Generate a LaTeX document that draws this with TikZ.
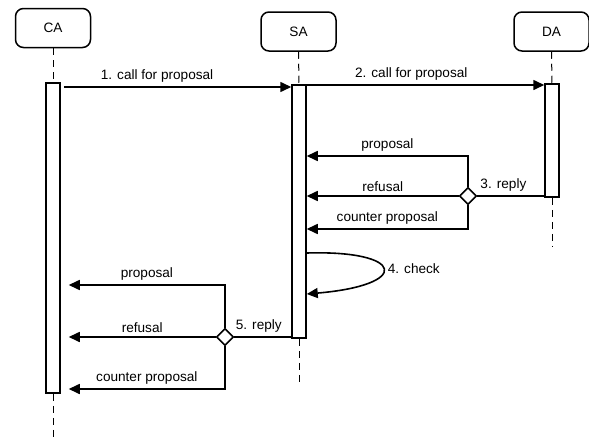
\documentclass[tikz,border=0pt]{standalone}
\usepackage{fontspec}
\setmainfont{Liberation Sans}
\usetikzlibrary{arrows.meta,positioning,calc,shapes.geometric}

\begin{document}
\begin{tikzpicture}[x=1pt,y=-1pt,
  agent/.style={draw,line width=1.5pt,rounded corners=8pt,minimum width=75pt,minimum height=39pt,font=\fontsize{13.6}{16}\selectfont},
  actbar/.style={draw,line width=1.5pt,fill=white,minimum width=14pt,inner sep=0pt},
  lifeline/.style={line width=1pt,dash pattern=on 7pt off 5pt},
  msg/.style={line width=1.6pt,-{Triangle[length=11pt,width=10pt]}},
  link/.style={line width=1.6pt},
  choice/.style={diamond,draw,line width=1.6pt,fill=white,minimum width=17pt,minimum height=17pt,inner sep=0pt},
  lbl/.style={above,inner sep=3.5pt,font=\fontsize{13.6}{16}\selectfont}]
  \useasboundingbox (0,0) rectangle (589,439); % 画像全体の大きさ
  \node[agent] (ca) at (53,28) {CA}; % エージェントの箱
  \node[agent] (sa) at (298.5,31.5) {SA};
  \node[agent] (da) at (551.5,31.5) {DA};
  \node[actbar,minimum height=310pt] (caact) at (53,238) {}; % 活性区間の細長い長方形
  \node[actbar,minimum height=253pt] (saact) at (299,211.5) {};
  \node[actbar,minimum height=113pt] (daact) at (552,140.5) {};
  \coordinate (caend) at (53,438); % ライフラインの下端
  \coordinate (saend) at (299,385);
  \coordinate (daend) at (552,247);
  \coordinate (catip) at ($(caact.east)+(8,0)$); % CA側の矢印の先端の位置
  \draw[lifeline] (ca.south) -- (caact.north); % 点線のライフライン
  \draw[lifeline] (caact.south) -- (caend);
  \draw[lifeline] (sa.south) -- (saact.north);
  \draw[lifeline] (saact.south) -- (saend);
  \draw[lifeline] (da.south) -- (daact.north);
  \draw[lifeline] (daact.south) -- (daend);
  \draw[msg] ($(caact.east |- 0,87)+(3,0)$) -- node[lbl,pos=0.41] {1. call for proposal} (saact.west |- 0,87); % 1番目のメッセージ
  \draw[msg] (saact.east |- 0,85) -- node[lbl,pos=0.44] {2. call for proposal} (daact.west |- 0,85); % 2番目のメッセージ
  \node[choice] (d3) at (468,196) {}; % 分岐を表すひし形
  \draw[link] (daact.west |- d3) -- node[lbl,pos=0.61] {3. reply} (d3.east);
  \draw[msg] (d3.north) |- node[lbl,pos=0.75] {proposal} (saact.east |- 0,156);
  \draw[msg] (d3.west) -- node[lbl] {refusal} (saact.east |- d3);
  \draw[msg] (d3.south) |- node[lbl,pos=0.75] {counter proposal} (saact.east |- 0,229);
  \draw[msg] (saact.east |- 0,253) .. controls (405,250) and (412,285) .. (saact.east |- 0,294)
    node[pos=0.5,right,inner sep=4pt,font=\fontsize{13.6}{16}\selectfont] {4. check}; % 自分自身へのメッセージ
  \node[choice] (d5) at (225,337) {};
  \draw[link] (saact.west |- d5) -- node[lbl,pos=0.57] {5. reply} (d5.east);
  \draw[msg] (d5.north) |- node[lbl,pos=0.75] {proposal} (catip |- 0,285);
  \draw[msg] (d5.west) -- node[lbl] {refusal} (catip |- d5);
  \draw[msg] (d5.south) |- node[lbl,pos=0.75] {counter proposal} (catip |- 0,389);
\end{tikzpicture}
\end{document}
